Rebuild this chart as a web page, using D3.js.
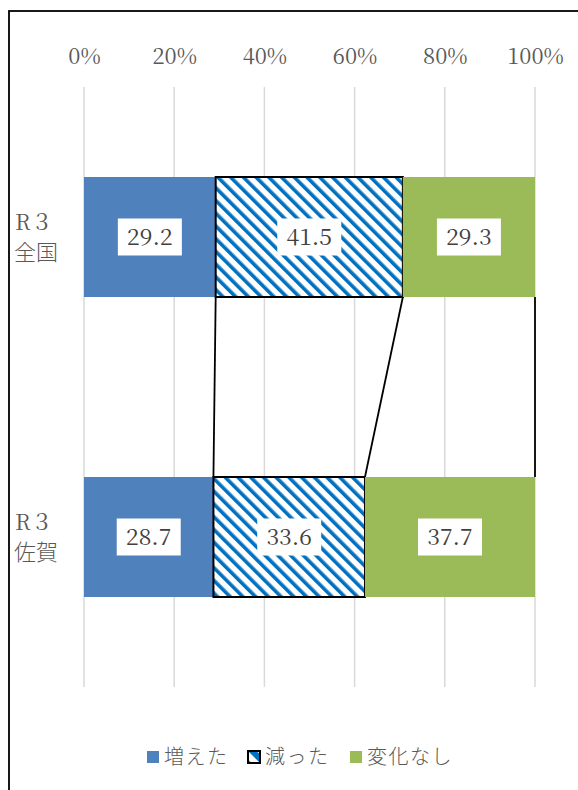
<!DOCTYPE html>
<html><head><meta charset="utf-8">
<script src="https://cdn.jsdelivr.net/npm/d3@7"></script>
<style>body{margin:0;background:#fff}svg{display:block}</style>
</head><body>
<script>
const categories = ["R３\n全国", "R３\n佐賀"];
const seriesNames = ["増えた", "減った", "変化なし"];
const increased = [29.2, 28.7];
const decreased = [41.5, 33.6];
const unchanged = [29.3, 37.7];
const tickValues = [0, 20, 40, 60, 80, 100];

const W = 578, H = 790;
const svg = d3.select("body").append("svg").attr("width", W).attr("height", H);
const defs = svg.append("defs");
const pat = defs.append("pattern").attr("id", "hatch").attr("patternUnits", "userSpaceOnUse")
  .attr("width", 9).attr("height", 9).attr("patternTransform", "rotate(-45)");
pat.append("rect").attr("width", 9).attr("height", 9).attr("fill", "#fff");
pat.append("rect").attr("x", 0).attr("width", 3.6).attr("height", 9).attr("fill", "#0070C0");
const patL = defs.append("pattern").attr("id", "hatchL").attr("patternUnits", "userSpaceOnUse")
  .attr("width", 12).attr("height", 12).attr("patternTransform", "rotate(-45)");
patL.append("rect").attr("width", 12).attr("height", 12).attr("fill", "#fff");
patL.append("rect").attr("width", 6).attr("height", 12).attr("fill", "#0070C0");

// frame
svg.append("rect").attr("x", 9).attr("y", 11).attr("width", 700).attr("height", 900)
  .attr("fill", "none").attr("stroke", "#000").attr("stroke-width", 1.8);

const x = d3.scaleLinear().domain([0, 100]).range([84, 535]);
const y = d3.scaleBand().domain(categories).range([87, 687]).paddingInner(0.6).paddingOuter(0.3);

const serif = "'Noto Serif CJK JP', 'Liberation Serif', serif";
const sans = "'Noto Sans CJK JP', sans-serif";

// gridlines
svg.append("g").selectAll("line").data(tickValues).join("line")
  .attr("x1", d => x(d)).attr("x2", d => x(d)).attr("y1", 87).attr("y2", 687)
  .attr("stroke", "#d9d9d9").attr("stroke-width", 1.5);

// axis labels
const axis = d3.axisTop(x).tickValues(tickValues).tickFormat(d => d + "%").tickSize(0).tickPadding(0);
const ag = svg.append("g").attr("transform", "translate(0,64)").call(axis);
ag.select(".domain").remove();
ag.selectAll("text").attr("font-family", serif).attr("font-size", 22).attr("fill", "#595959");

// stacked data
const rows = categories.map((c, i) => ({cat: c, vals: [increased[i], decreased[i], unchanged[i]]}));
rows.forEach(r => { let acc = 0; r.segs = r.vals.map((v, k) => { const s = {k, v, x0: acc, x1: acc + v, cat: r.cat}; acc += v; return s; }); });

const fills = ["#4F81BD", "url(#hatch)", "#9BBB59"];

// series lines
const bw = y.bandwidth();
for (let b = 0; b < 3; b++) {
  svg.append("line")
    .attr("x1", x(rows[0].segs[b].x1)).attr("y1", y(categories[0]) + bw)
    .attr("x2", x(rows[1].segs[b].x1)).attr("y2", y(categories[1]))
    .attr("stroke", "#000").attr("stroke-width", 1.8);
}

const segs = rows.flatMap(r => r.segs);
svg.append("g").selectAll("rect").data(segs).join("rect")
  .attr("x", d => x(d.x0)).attr("width", d => x(d.x1) - x(d.x0))
  .attr("y", d => y(d.cat)).attr("height", bw)
  .attr("fill", d => fills[d.k])
  .attr("stroke", d => d.k === 1 ? "#000" : "none").attr("stroke-width", 2);

// labels
const lg = svg.append("g").selectAll("g").data(segs).join("g")
  .attr("transform", d => `translate(${(x(d.x0) + x(d.x1)) / 2},${y(d.cat) + bw / 2})`);
lg.append("rect").attr("x", -32).attr("y", -18.5).attr("width", 64).attr("height", 37).attr("fill", "#fff");
lg.append("text").attr("text-anchor", "middle").attr("dy", "0.36em")
  .attr("font-family", serif).attr("font-size", 23).attr("fill", "#404040")
  .text(d => d.v.toFixed(1));

// category labels (two lines, separate text elements)
const cl = svg.append("g");
categories.forEach(d => {
  const parts = d.split("\n");
  cl.append("text").attr("x", 15).attr("y", y(d) + bw / 2 - 7)
    .attr("font-family", serif).attr("font-size", 22).attr("fill", "#595959").text(parts[0]);
  cl.append("text").attr("x", 14).attr("y", y(d) + bw / 2 + 23)
    .attr("font-family", sans).attr("font-weight", 300).attr("font-size", 22).attr("fill", "#595959").text(parts[1]);
});

// legend
const legX = [147, 248, 350];
const leg = svg.append("g").selectAll("g").data(seriesNames).join("g")
  .attr("transform", (d, i) => `translate(${legX[i]},751)`);
leg.append("rect").attr("width", 12).attr("height", 12)
  .attr("fill", (d, i) => i === 1 ? "url(#hatchL)" : fills[i])
  .attr("stroke", (d, i) => i === 1 ? "#000" : "none").attr("stroke-width", 2);
leg.append("text").attr("x", 17).attr("y", 6).attr("dy", "0.36em")
  .attr("font-family", sans).attr("font-weight", 300).attr("font-size", 20).attr("letter-spacing", 1.5).attr("fill", "#595959").text(d => d);
</script>
</body></html>
